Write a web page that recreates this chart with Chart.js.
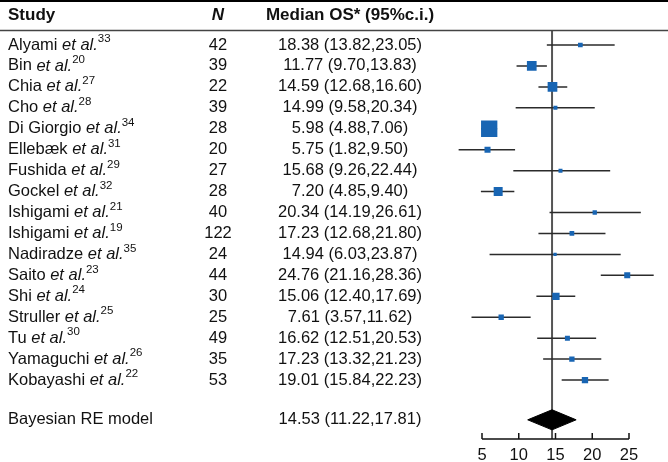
<!DOCTYPE html>
<html>
<head>
<meta charset="utf-8">
<script src="https://cdn.jsdelivr.net/npm/chart.js@4.4.0/dist/chart.umd.min.js"></script>
<style>
  html, body { margin: 0; padding: 0; background: #fff; }
  #wrap { width: 668px; height: 462px; }
</style>
</head>
<body>
<div id="wrap"><canvas id="forest" width="668" height="462"></canvas></div>
<script>
// study data
var studies = ['Alyami', 'Bin', 'Chia', 'Cho', 'Di Giorgio', 'Ellebæk', 'Fushida', 'Gockel', 'Ishigami', 'Ishigami',
  'Nadiradze', 'Saito', 'Shi', 'Struller', 'Tu', 'Yamaguchi', 'Kobayashi'];
var refs = ['33', '20', '27', '28', '34', '31', '29', '32', '21', '19', '35', '23', '24', '25', '30', '26', '22'];
var patients = [42, 39, 22, 39, 28, 20, 27, 28, 40, 122, 24, 44, 30, 25, 49, 35, 53];
var medianOS = [18.38, 11.77, 14.59, 14.99, 5.98, 5.75, 15.68, 7.20, 20.34, 17.23, 14.94, 24.76, 15.06, 7.61, 16.62, 17.23, 19.01];
var lowerCI = [13.82, 9.70, 12.68, 9.58, 4.88, 1.82, 9.26, 4.85, 14.19, 12.68, 6.03, 21.16, 12.40, 3.57, 12.51, 13.32, 15.84];
var upperCI = [23.05, 13.83, 16.60, 20.34, 7.06, 9.50, 22.44, 9.40, 26.61, 21.80, 23.87, 28.36, 17.69, 11.62, 20.53, 21.23, 22.23];
// study weights (%)
var weights = [2.5, 10.6, 10.6, 1.8, 30.0, 4.1, 1.8, 9.1, 2.1, 2.5, 1.2, 4.1, 6.0, 3.2, 2.8, 3.2, 4.5];
var pooledLabel = 'Bayesian RE model';
var pooledEst = 14.53;
var pooledCI = [11.22, 17.81];
var xTicks = [5, 10, 15, 20, 25];

var FONT = '"Liberation Sans", Arial, Helvetica, sans-serif';
var BLUE = '#1865b3';
var poolRow = 17.9;
var yTop = -2.149, yBottom = 18.816, headerRow = -1.43, headerLine = -0.716;

var boxes = medianOS.map(function (m, i) { return { x: m, y: i }; });
var boxRadius = weights.map(function (w) { return Math.sqrt(w * 8.87) / Math.SQRT2; });
var bars = [];
lowerCI.forEach(function (lo, i) {
  bars.push({ x: lo, y: i }, { x: upperCI[i], y: i }, { x: upperCI[i], y: null });
});
var diamond = [
  { x: pooledCI[0], y: poolRow }, { x: pooledEst, y: poolRow - 0.48 },
  { x: pooledCI[1], y: poolRow }, { x: pooledEst, y: poolRow + 0.48 },
  { x: pooledCI[0], y: poolRow }
];
var refLine = [{ x: pooledEst, y: headerLine }, { x: pooledEst, y: yBottom }];

function fmt(v) { return v.toFixed(2); }

var forestText = {
  id: 'forestText',
  afterDraw: function (chart) {
    var ctx = chart.ctx, ys = chart.scales.y, xs = chart.scales.x;
    var W = chart.width, ca = chart.chartArea;
    ctx.save();
    // top rule and header rule
    ctx.strokeStyle = '#000';
    ctx.lineWidth = 2;
    ctx.beginPath(); ctx.moveTo(0, 1); ctx.lineTo(W, 1); ctx.stroke();
    var hl = Math.round(ys.getPixelForValue(headerLine)) + 0.5;
    ctx.strokeStyle = '#444';
    ctx.lineWidth = 1.5;
    ctx.beginPath(); ctx.moveTo(0, hl); ctx.lineTo(W, hl); ctx.stroke();

    // x axis line with upward ticks
    var by = ca.bottom;
    ctx.strokeStyle = '#111';
    ctx.lineWidth = 1.5;
    ctx.beginPath();
    ctx.moveTo(xs.getPixelForValue(xTicks[0]), by);
    ctx.lineTo(xs.getPixelForValue(xTicks[xTicks.length - 1]), by);
    xTicks.forEach(function (t) {
      var px = xs.getPixelForValue(t);
      ctx.moveTo(px, by); ctx.lineTo(px, by - 6);
    });
    ctx.stroke();

    // header
    ctx.fillStyle = '#111';
    ctx.textBaseline = 'middle';
    var hy = ys.getPixelForValue(headerRow);
    ctx.font = 'bold 17px ' + FONT;
    ctx.textAlign = 'left';
    ctx.fillText('Study', 8, hy);
    ctx.textAlign = 'center';
    ctx.font = 'italic bold 17px ' + FONT;
    ctx.fillText('N', 218, hy);
    ctx.font = 'bold 17px ' + FONT;
    ctx.fillText('Median OS* (95%c.i.)', 350, hy);

    // rows
    studies.forEach(function (s, i) {
      var y = ys.getPixelForValue(i), x = 8;
      ctx.textAlign = 'left';
      ctx.font = '16.5px ' + FONT;
      ctx.fillText(s + ' ', x, y);
      x += ctx.measureText(s + ' ').width;
      ctx.font = 'italic 16.5px ' + FONT;
      ctx.fillText('et al.', x, y);
      x += ctx.measureText('et al.').width;
      ctx.font = '11.5px ' + FONT;
      ctx.fillText(refs[i], x, y - 6);
      ctx.font = '16.5px ' + FONT;
      ctx.textAlign = 'center';
      ctx.fillText(String(patients[i]), 218, y);
      ctx.fillText(fmt(medianOS[i]) + ' (' + fmt(lowerCI[i]) + ',' + fmt(upperCI[i]) + ')', 350, y);
    });
    var py = ys.getPixelForValue(poolRow);
    ctx.textAlign = 'left';
    ctx.fillText(pooledLabel, 8, py);
    ctx.textAlign = 'center';
    ctx.fillText(fmt(pooledEst) + ' (' + fmt(pooledCI[0]) + ',' + fmt(pooledCI[1]) + ')', 350, py);
    ctx.restore();
  }
};

new Chart(document.getElementById('forest'), {
  type: 'scatter',
  data: {
    datasets: [
      {
        label: 'Median OS',
        data: boxes,
        pointStyle: 'rect',
        pointRadius: boxRadius,
        pointBackgroundColor: BLUE,
        pointBorderWidth: 0,
        order: 0
      },
      {
        label: 'Pooled',
        data: diamond,
        showLine: true,
        fill: 'shape',
        backgroundColor: '#000',
        borderColor: '#000',
        borderWidth: 1,
        pointRadius: 0,
        tension: 0,
        order: 1
      },
      {
        label: '95% CI',
        data: bars,
        showLine: true,
        spanGaps: false,
        borderColor: '#2b2b2b',
        borderWidth: 1.5,
        pointRadius: 0,
        order: 2
      },
      {
        label: 'Pooled estimate',
        data: refLine,
        showLine: true,
        borderColor: '#555',
        borderWidth: 2,
        pointRadius: 0,
        order: 3
      }
    ]
  },
  options: {
    responsive: false,
    animation: false,
    events: [],
    layout: { autoPadding: false, padding: { left: 445.25, right: 2.25, top: 0, bottom: 0 } },
    plugins: { legend: { display: false }, tooltip: { enabled: false } },
    scales: {
      x: {
        type: 'linear',
        min: 0,
        max: 30,
        afterBuildTicks: function (s) { s.ticks = xTicks.map(function (v) { return { value: v }; }); },
        afterFit: function (s) { s.height = 23; },
        grid: { display: false, drawTicks: false },
        border: { display: false },
        ticks: { color: '#111', font: { size: 16.5, family: FONT }, padding: 7 }
      },
      y: { type: 'linear', reverse: true, min: yTop, max: yBottom, display: false }
    }
  },
  plugins: [forestText]
});
</script>
</body>
</html>
